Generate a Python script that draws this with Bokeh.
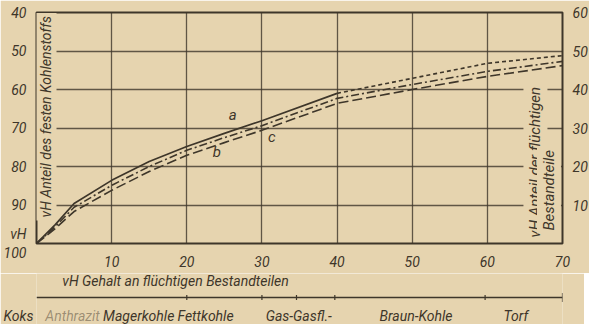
import math
from bokeh.plotting import figure
from bokeh.layouts import column
from bokeh.models import Range1d, LinearAxis, FixedTicker, Label
from bokeh.core.properties import value
from bokeh.embed import file_html
from bokeh.resources import INLINE

# ---- data ----
volatile = [0, 2.5, 5, 10, 15, 20, 25, 30, 40, 50, 60, 70]
curve_a = [100, 95.1, 89.6, 83.6, 78.7, 74.8, 71.4, 68.1, 61.0, 57.1, 53.2, 51.2]
curve_c = [100, 95.6, 90.6, 84.9, 80.0, 75.8, 72.5, 69.4, 62.3, 58.7, 55.3, 52.7]
curve_b = [100, 96.1, 91.7, 86.2, 81.3, 77.1, 73.8, 70.6, 63.6, 60.0, 56.6, 53.8]

x_ticks = [10, 20, 30, 40, 50, 60, 70]
left_ticks = [40, 50, 60, 70, 80, 90, 100]
right_ticks = [10, 20, 30, 40, 50, 60]
x_grid = [10, 20, 30, 40, 50, 60]
y_grid = [50, 60, 70, 80, 90]

curve_names = ["a", "b", "c"]
curve_label_x = [26.1, 24.0, 31.3]
curve_label_y = [66.6, 76.2, 72.3]

coal_types = ["Koks", "Anthrazit", "Magerkohle", "Fettkohle", "Gas-Gasfl.-", "Braun-Kohle", "Torf"]
coal_centres = [-1.7, 4.8, 13.6, 22.5, 34.9, 50.5, 63.8]
coal_bounds = [0, 20, 30, 34.6, 39.7, 59.7, 70]

paper = "#e6d4af"
ink = "#3e362a"
FONT = "Roboto"

W = 573
FL, FR, FT = 25, 22, 12          # frame borders (px)
FW, FH = W - FL - FR, 231        # frame size
BOT = 30                         # room for x tick labels
H2 = 51                          # strip with title, ruler and coal classes

p = figure(width=W, height=FT + FH + BOT, frame_width=FW, frame_height=FH,
           x_range=Range1d(0, 70), y_range=Range1d(100, 40),
           output_backend="svg", toolbar_location=None,
           min_border_left=FL, min_border_right=FR, min_border_top=FT, min_border_bottom=BOT,
           background_fill_color=paper, border_fill_color=paper,
           outline_line_color=ink, outline_line_width=2)

# axes
p.xaxis.ticker = FixedTicker(ticks=x_ticks)
p.yaxis.ticker = FixedTicker(ticks=left_ticks)
p.yaxis.major_label_overrides = {100: "vH\n100"}
for ax in [p.xaxis[0], p.yaxis[0]]:
    ax.axis_line_color = None
    ax.major_tick_line_color = None
    ax.minor_tick_line_color = None
    ax.major_label_text_font = FONT
    ax.major_label_text_font_style = "italic"
    ax.major_label_text_font_size = "14px"
    ax.major_label_text_color = ink
p.xaxis.major_label_standoff = 6
p.yaxis.major_label_standoff = 4

p.extra_y_ranges = {"right": Range1d(0, 60)}
rax = LinearAxis(y_range_name="right", ticker=FixedTicker(ticks=right_ticks),
                 axis_line_color=None, major_tick_line_color=None, minor_tick_line_color=None,
                 major_label_text_font=FONT, major_label_text_font_style="italic",
                 major_label_text_font_size="14px", major_label_text_color=ink,
                 major_label_standoff=4)
p.add_layout(rax, "right")

# grid (drawn first, so the inner titles can mask it)
p.xgrid.ticker = FixedTicker(ticks=x_grid)
p.ygrid.ticker = FixedTicker(ticks=y_grid)
for g in [p.xgrid[0], p.ygrid[0]]:
    g.grid_line_color = ink
    g.grid_line_alpha = 0.8
    g.grid_line_width = 1.3
    g.level = "image"


def lab(x, y, text, size="14px", angle=0, align="center", bg=None, level="annotation"):
    kw = dict(x=x, y=y, text=text, angle=angle, text_align=align, text_baseline="middle",
              text_font=FONT, text_font_style="italic", text_font_size=size, text_color=ink,
              level=level)
    if bg:
        kw.update(background_fill_color=bg, background_fill_alpha=1.0, padding=3)
    p.add_layout(Label(**kw))


# inner axis titles (under the curves, over the grid)
lab(1.2, 94.0, "vH Anteil des festen Kohlenstoffs", size="14px", angle=math.pi / 2,
    align="left", bg=paper, level="underlay")
lab(66.4, 99.2, "vH Anteil der flüchtigen", size="15px", angle=math.pi / 2,
    align="left", bg=paper, level="underlay")
lab(68.2, 97.4, "Bestandteile", size="15px", angle=math.pi / 2, align="left", bg=paper,
    level="underlay")

# curves
k = volatile.index(40)
p.line(volatile[:k + 1], curve_a[:k + 1], line_color=ink, line_width=1.7)
p.line(volatile[k:], curve_a[k:], line_color=ink, line_width=1.6, line_dash="4 3")
p.line(volatile, curve_c, line_color=ink, line_width=1.6, line_dash="8 3 2 3")
p.line(volatile, curve_b, line_color=ink, line_width=1.6, line_dash="10 4")

# curve labels
for n, cx, cy in zip(curve_names, curve_label_x, curve_label_y):
    lab(cx, cy, n, size="15px")

# ---- lower strip: x title, ruler and coal classes (same frame as the chart) ----
ROW_TITLE, ROW_RULE, ROW_CLASS = 7, 24, 42
p2 = figure(width=W, height=H2, frame_width=FW, frame_height=H2,
            x_range=p.x_range, y_range=Range1d(H2, 0),
            output_backend="svg", toolbar_location=None,
            min_border_left=FL, min_border_right=FR, min_border_top=0, min_border_bottom=0,
            x_axis_location=None,
            background_fill_color=paper, border_fill_color=paper, outline_line_color=None)
p2.xgrid.visible = False
p2.ygrid.visible = False

# the first class ("Koks") lies left of the frame: give it as the strip's left tick label
outside = [c for c in coal_centres if c < 0]
p2.yaxis.ticker = FixedTicker(ticks=[ROW_CLASS])
p2.yaxis.major_label_overrides = {ROW_CLASS: coal_types[coal_centres.index(outside[0])]}
p2.yaxis.axis_line_color = None
p2.yaxis.major_tick_line_color = None
p2.yaxis.minor_tick_line_color = None
p2.yaxis.major_label_text_font = FONT
p2.yaxis.major_label_text_font_style = "italic"
p2.yaxis.major_label_text_font_size = "14px"
p2.yaxis.major_label_text_color = ink
p2.yaxis.major_label_standoff = -3

p2.text(x=[18.5], y=[ROW_TITLE], text=["vH Gehalt an flüchtigen Bestandteilen"],
        text_font=value(FONT), text_font_style="italic", text_font_size="14px",
        text_color=ink, text_align="center", text_baseline="middle")
p2.line(x=[coal_bounds[0], coal_bounds[-1]], y=[ROW_RULE, ROW_RULE], line_color=ink, line_width=1.3)
inner = coal_bounds[1:]
tick_h = [9 if b == coal_bounds[-1] else 5 for b in inner]
p2.segment(x0=inner, y0=[ROW_RULE - h / 2 for h in tick_h],
           x1=inner, y1=[ROW_RULE + h / 2 for h in tick_h],
           line_color=ink, line_width=1.2)
in_names = [n for n, c in zip(coal_types, coal_centres) if c >= 0]
in_x = [c for c in coal_centres if c >= 0]
alphas = [0.45 if n == "Anthrazit" else 1.0 for n in in_names]
p2.text(x=in_x, y=[ROW_CLASS] * len(in_x), text=in_names,
        text_font=value(FONT), text_font_style="italic", text_font_size="14px",
        text_color=ink, text_alpha=alphas, text_align="center", text_baseline="middle")

layout = column(p, p2, spacing=0)
open("out.html", "w").write(file_html(layout, INLINE))
